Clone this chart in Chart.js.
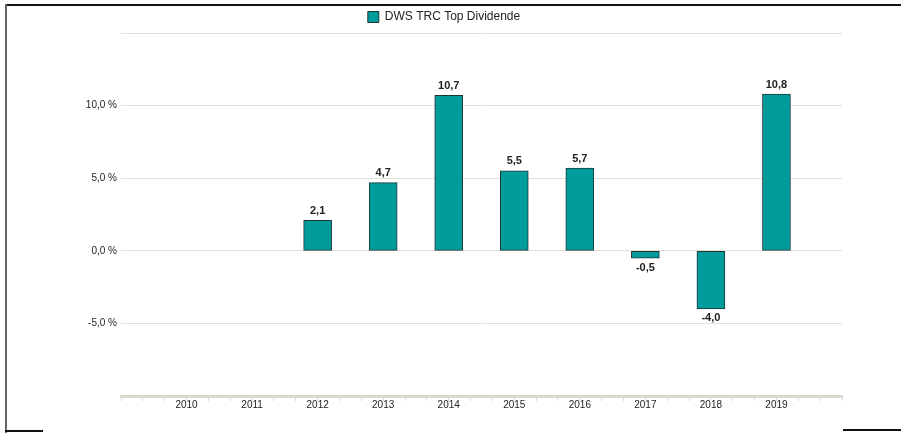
<!DOCTYPE html>
<html>
<head>
<meta charset="utf-8">
<script src="https://cdn.jsdelivr.net/npm/chart.js@4/dist/chart.umd.min.js"></script>
<style>
  html, body { margin: 0; padding: 0; background: #fff; }
  #wrap { position: relative; width: 901px; height: 433px; overflow: hidden; }
  #wrap canvas { position: absolute; left: 0; top: 0; }
  .edge { position: absolute; }
</style>
</head>
<body>
<div id="wrap">
  <canvas id="perfChart" width="901" height="433"></canvas>
  <div class="edge" style="left:5px;top:4px;width:896px;height:2px;background:#111;"></div>
  <div class="edge" style="left:5px;top:4px;width:2px;height:429px;background:#666;"></div>
  <div class="edge" style="left:5px;top:430px;width:38px;height:2px;background:#111;"></div>
  <div class="edge" style="left:843px;top:429px;width:58px;height:2px;background:#111;"></div>
</div>
<script>
const years = [2010, 2011, 2012, 2013, 2014, 2015, 2016, 2017, 2018, 2019];
const returns = [null, null, 2.1, 4.7, 10.7, 5.5, 5.7, -0.5, -4.0, 10.8];
const yTicks = [-5, 0, 5, 10];
const seriesName = 'DWS TRC Top Dividende';

const fontFamily = '"Liberation Sans", Arial, sans-serif';
const gridColor = '#e2e0d8';
const axisColor = '#dcd8cc';

function fmt(v) {
    return v.toFixed(1).replace('.', ',');
}

// value labels above (or below) each bar
const barLabels = {
    id: 'barLabels',
    afterDatasetsDraw(chart) {
        const ctx = chart.ctx;
        const meta = chart.getDatasetMeta(0);
        ctx.save();
        ctx.font = 'bold 11px ' + fontFamily;
        ctx.fillStyle = '#222';
        ctx.textAlign = 'center';
        meta.data.forEach(function (bar, i) {
            const v = returns[i];
            if (v === null) return;
            if (v >= 0) {
                ctx.textBaseline = 'bottom';
                ctx.fillText(fmt(v), bar.x, bar.y - 4);
            } else {
                ctx.textBaseline = 'top';
                ctx.fillText(fmt(v), bar.x, bar.y + 4);
            }
        });
        ctx.restore();
    }
};

const ctx = document.getElementById('perfChart').getContext('2d');

new Chart(ctx, {
    type: 'bar',
    data: {
        datasets: [{
            label: seriesName,
            data: years.map(function (y, i) { return { x: y, y: returns[i] }; }),
            backgroundColor: '#009b9b',
            borderColor: '#1f3535',
            borderWidth: 1,
            borderSkipped: false,
            barThickness: 28
        }]
    },
    options: {
        responsive: false,
        animation: false,
        layout: {
            padding: { left: 46, right: 59, top: 6.5, bottom: 0 }
        },
        plugins: {
            legend: {
                display: true,
                position: 'top',
                labels: {
                    font: { family: fontFamily, size: 12 },
                    color: '#222',
                    boxWidth: 11,
                    boxHeight: 11,
                    padding: 4.5
                }
            },
            tooltip: { enabled: false }
        },
        scales: {
            x: {
                type: 'linear',
                offset: false,
                min: 2009,
                max: 2020,
                afterBuildTicks(scale) {
                    const t = [];
                    for (let k = 0; k <= 33; k++) {
                        t.push({ value: 2009 + k / 3 });
                    }
                    scale.ticks = t;
                },
                afterFit(scale) {
                    scale.height = 37;
                },
                border: { display: true, color: axisColor, width: 3 },
                grid: {
                    offset: false,
                    drawOnChartArea: false,
                    drawTicks: true,
                    tickLength: 5,
                    tickColor: axisColor,
                    tickWidth: 1
                },
                ticks: {
                    autoSkip: false,
                    maxRotation: 0,
                    padding: -2,
                    font: { family: fontFamily, size: 10 },
                    color: '#222',
                    callback: function (v) {
                        const r = Math.round(v);
                        if (Math.abs(v - r) < 1e-6 && years.indexOf(r) !== -1) return String(r);
                        return '';
                    }
                }
            },
            y: {
                min: -10,
                max: 15,
                afterBuildTicks(scale) {
                    scale.ticks = [-10, -5, 0, 5, 10, 15].map(function (v) { return { value: v }; });
                },
                afterFit(scale) {
                    scale.width = 75;
                },
                border: { display: false },
                grid: {
                    color: gridColor,
                    lineWidth: 1,
                    drawTicks: false
                },
                ticks: {
                    padding: 4,
                    font: { family: fontFamily, size: 10 },
                    color: '#222',
                    callback: function (v) {
                        return yTicks.indexOf(v) !== -1 ? fmt(v) + ' %' : '';
                    }
                }
            }
        }
    },
    plugins: [barLabels]
});
</script>
</body>
</html>
